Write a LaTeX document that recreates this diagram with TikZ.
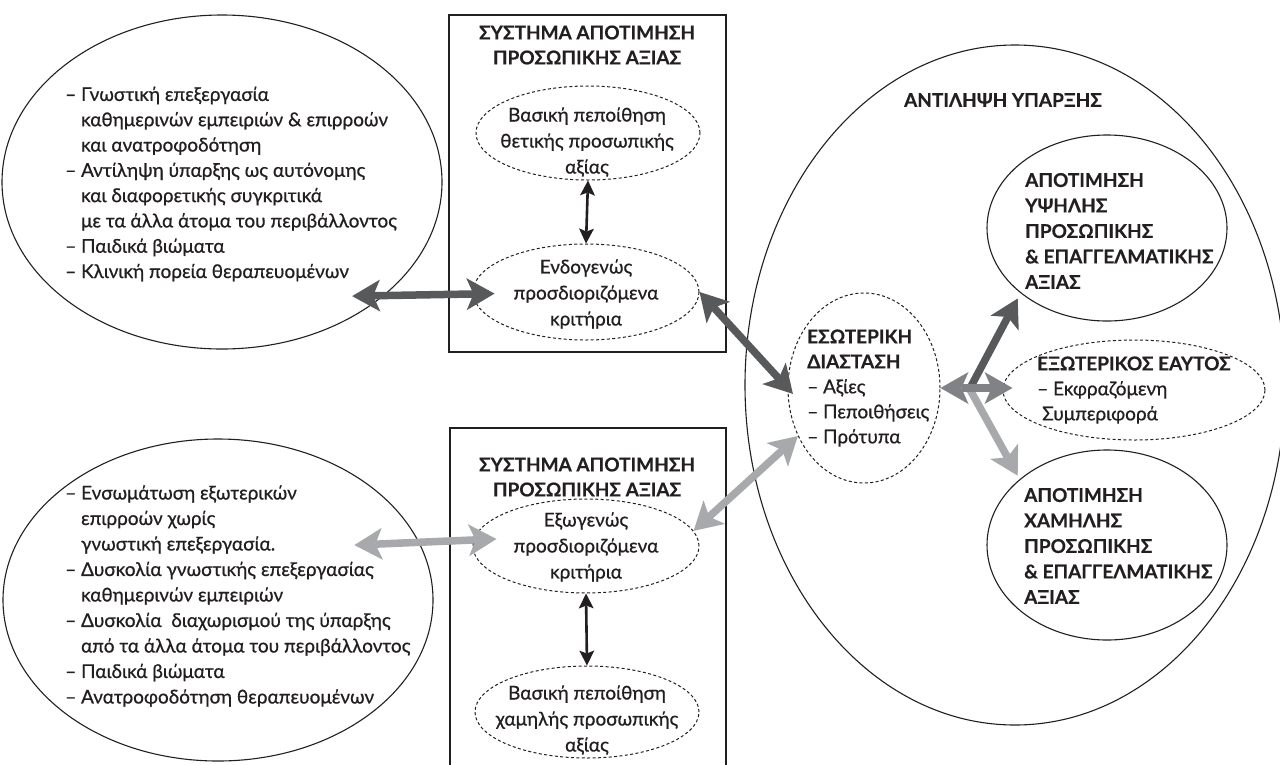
\documentclass[tikz,border=0pt]{standalone}
\usepackage{fontspec}
\setmainfont{Lato}[UprightFeatures={FakeBold=0.7},BoldFeatures={FakeBold=0.4}]
\usetikzlibrary{shapes.geometric,arrows.meta,calc}
\definecolor{ink}{HTML}{231F20}
\definecolor{gdark}{HTML}{58595B}
\definecolor{gmid}{HTML}{808285}
\definecolor{glight}{HTML}{A7A9AC}
\tikzset{
  el/.style={ellipse, draw=ink, line width=1.1pt, inner sep=0pt},
  del/.style={ellipse, draw=ink, line width=1pt, dash pattern=on 3pt off 2.4pt, inner sep=0pt},
  panel/.style={draw=ink, line width=1.1pt},
  txt/.style={align=left, inner sep=0pt, text=ink, font=\fontsize{19}{25}\selectfont},
  ctxt/.style={align=center, inner sep=0pt, text=ink, font=\fontsize{19}{26}\selectfont},
  btxt/.style={align=center, inner sep=0pt, text=ink, font=\fontsize{19}{25}\selectfont\bfseries},
  BigTip/.tip={Stealth[length=28pt,width=32pt,inset=7pt,line width=0pt]},
  SmallTip/.tip={Stealth[length=15pt,width=15pt,inset=3pt,line width=0pt]},
  fat/.style={line width=7.5pt, draw=#1},
  thin/.style={line width=2.6pt, draw=ink, arrows={SmallTip-SmallTip}},
}
\begin{document}
\begin{tikzpicture}[x=1pt,y=-1pt]
\clip (0,0) rectangle (1280,764);
\fill[white] (0,0) rectangle (1280,764);

% left ellipses
\node[el, minimum width=440pt, minimum height=334pt] (tl) at (222,182) {};
\node[txt, anchor=west, font=\fontsize{19}{25.3}\selectfont] (tltext) at (65,184) {– Γνωστική επεξεργασία\\
\phantom{– }καθημερινών εμπειριών \& επιρροών\\
\phantom{– }και ανατροφοδότηση\\
– Αντίληψη ύπαρξης ως αυτόνομης\\
\phantom{– }και διαφορετικής συγκριτικά\\
\phantom{– }με τα άλλα άτομα του περιβάλλοντος\\
– Παιδικά βιώματα\\
– Κλινική πορεία θεραπευομένων};

\node[el, minimum width=430pt, minimum height=322pt] (bl) at (218,600) {};
\node[txt, anchor=west, font=\fontsize{19}{25.5}\selectfont] (bltext) at (65,596) {– Ενσωμάτωση εξωτερικών\\
\phantom{– }επιρροών χωρίς\\
\phantom{– }γνωστική επεξεργασία.\\
– Δυσκολία γνωστικής επεξεργασίας\\
\phantom{– }καθημερινών εμπειριών\\
– Δυσκολία\ \ διαχωρισμού της ύπαρξης\\
\phantom{– }από τα άλλα άτομα του περιβάλλοντος\\
– Παιδικά βιώματα\\
– Ανατροφοδότηση θεραπευομένων};

% top box
\draw[panel] (449,15) rectangle (726,352);
\node[btxt] (title1) at (587,45) {ΣΥΣΤΗΜΑ ΑΠΟΤΙΜΗΣΗ\\ΠΡΟΣΩΠΙΚΗΣ ΑΞΙΑΣ};
\node[del, minimum width=224pt, minimum height=94pt] (bp1) at (588,133) {};
\node[ctxt] (bp1text) at (587,142) {Βασική πεποίθηση\\θετικής προσωπικής\\αξίας};
\node[del, minimum width=226pt, minimum height=96pt] (endo) at (586,292) {};
\node[ctxt] (endotext) at (586,294) {Ενδογενώς\\προσδιοριζόμενα\\κριτήρια};

% bottom box
\draw[panel] (450,428) rectangle (726,790);
\node[btxt] (title2) at (587,477) {ΣΥΣΤΗΜΑ ΑΠΟΤΙΜΗΣΗ\\ΠΡΟΣΩΠΙΚΗΣ ΑΞΙΑΣ};
\node[del, minimum width=226pt, minimum height=94pt] (exo) at (586,546) {};
\node[ctxt] (exotext) at (586,547) {Εξωγενώς\\προσδιοριζόμενα\\κριτήρια};
\node[del, minimum width=224pt, minimum height=92pt] (bp2) at (587,712) {};
\node[ctxt] (bp2text) at (587,720) {Βασική πεποίθηση\\χαμηλής προσωπικής\\αξίας};

% right big ellipse
\node[el, minimum width=540pt, minimum height=680pt] (big) at (1015,385) {};
\node[btxt] (bigtitle) at (1003,100) {ΑΝΤΙΛΗΨΗ ΥΠΑΡΞΗΣ};

\node[del, minimum width=152pt, minimum height=190pt] (inner) at (864,388) {};
\node[txt, anchor=west] (innertext) at (807,388) {\textbf{ΕΣΩΤΕΡΙΚΗ}\\\textbf{ΔΙΑΣΤΑΣΗ}\\– Αξίες\\– Πεποιθήσεις\\– Πρότυπα};

\node[el, minimum width=240pt, minimum height=186pt] (hi) at (1107,228) {};
\node[txt, anchor=west, font=\fontsize{19}{25.5}\selectfont\bfseries] (hitext) at (1025,231) {ΑΠΟΤΙΜΗΣΗ\\ΥΨΗΛΗΣ\\ΠΡΟΣΩΠΙΚΗΣ\\\&\ ΕΠΑΓΓΕΛΜΑΤΙΚΗΣ\\ΑΞΙΑΣ};

\node[del, minimum width=262pt, minimum height=100pt] (ext) at (1134,390) {};
\node[txt, anchor=west] (exttext) at (1037,390) {\textbf{ΕΞΩΤΕΡΙΚΟΣ ΕΑΥΤΟΣ}\\– Εκφραζόμενη\\\hspace*{5pt}Συμπεριφορά};

\node[el, minimum width=240pt, minimum height=190pt] (lo) at (1107,545) {};
\node[txt, anchor=west, font=\fontsize{19}{25.5}\selectfont\bfseries] (lotext) at (1024,546) {ΑΠΟΤΙΜΗΣΗ\\ΧΑΜΗΛΗΣ\\ΠΡΟΣΩΠΙΚΗΣ\\\&\ ΕΠΑΓΓΕΛΜΑΤΙΚΗΣ\\ΑΞΙΑΣ};

% connectors
\draw[thin] (bp1.south) -- (endo.north);
\draw[thin] (exo.south) -- (bp2.north);

\draw[fat=gdark, arrows={BigTip-BigTip}, shorten <=-32pt, shorten >=-22pt] (tl.-35) -- ([yshift=-2pt]endo.west);
\draw[fat=glight, arrows={BigTip-BigTip}, shorten <=-65pt, shorten >=-24pt] (bl.16.7) -- ([yshift=6pt]exo.west);

\draw[fat=gdark, arrows={BigTip-BigTip}, shorten >=-8pt] (endo.east) -- (inner.west);
\draw[fat=glight, arrows={BigTip-BigTip}] (exo.8) -- (inner.-144.5);

\coordinate (hub) at ($(inner.east)!0.47!(ext.west)$);
\draw[fat=gdark, arrows={-BigTip}, shorten >=6pt] (hub) -- (hi.-143);
\draw[fat=glight, arrows={-BigTip}, shorten >=4pt] (hub) -- (lo.143);
\draw[fat=gmid, arrows={BigTip-BigTip}, shorten >=-10pt] (inner.east) -- ([yshift=2pt]ext.west);
\end{tikzpicture}
\end{document}
